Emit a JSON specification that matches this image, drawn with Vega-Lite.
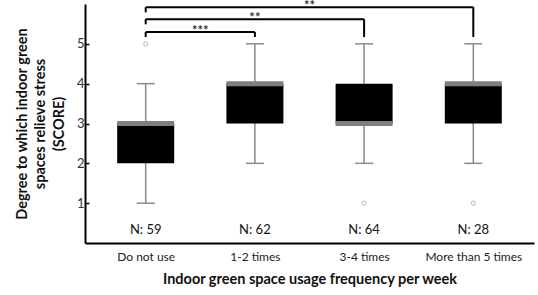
{
  "$schema": "https://vega.github.io/schema/vega-lite/v6.json",
  "autosize": {"type": "none"},
  "width": 449,
  "height": 239,
  "padding": {"left": 85, "top": 4, "right": 4, "bottom": 52},
  "background": "white",
  "config": {
    "view": {"stroke": null},
    "font": "Lato",
    "axis": {"grid": false, "domainColor": "black", "domainWidth": 2, "labelFont": "Lato", "titleFont": "Lato"}
  },
  "datasets": {
    "boxes": [
      {"pos": 1, "cat": "Do not use", "lo": 1, "q1": 2, "med": 3, "q3": 3, "hi": 4, "n": "N: 59"},
      {"pos": 2, "cat": "1-2 times", "lo": 2, "q1": 3, "med": 4, "q3": 4, "hi": 5, "n": "N: 62"},
      {"pos": 3, "cat": "3-4 times", "lo": 2, "q1": 3, "med": 3, "q3": 4, "hi": 5, "n": "N: 64"},
      {"pos": 4, "cat": "More than 5 times", "lo": 2, "q1": 3, "med": 4, "q3": 4, "hi": 5, "n": "N: 28"}
    ],
    "outliers": [
      {"pos": 1, "value": 5},
      {"pos": 3, "value": 1},
      {"pos": 4, "value": 1}
    ],
    "brackets": [
      {"from": 1, "to": 2, "mid": 1.5, "level": 5.3, "lb": 5.17, "rb": 5.17, "label": "***"},
      {"from": 1, "to": 3, "mid": 2, "level": 5.62, "lb": 5.49, "rb": 5.17, "label": "**"},
      {"from": 1, "to": 4, "mid": 2.5, "level": 5.92, "lb": 5.79, "rb": 5.17, "label": "**"}
    ]
  },
  "encoding": {
    "x": {
      "field": "pos", "type": "quantitative",
      "scale": {"domain": [0.49, 4.51], "nice": false, "zero": false},
      "axis": {
        "values": [1, 2, 3, 4], "ticks": false, "labelPadding": 8, "labelFontSize": 12, "labelColor": "#222",
        "labelExpr": "datum.value == 1 ? 'Do not use' : datum.value == 2 ? '1-2 times' : datum.value == 3 ? '3-4 times' : 'More than 5 times'",
        "title": "Indoor green space usage frequency per week", "titleFontSize": 14.5, "titleFontWeight": "bold", "titlePadding": 10, "titleColor": "#111"
      }
    }
  },
  "layer": [
    {
      "data": {"name": "boxes"},
      "mark": {"type": "rule", "color": "#8a8a8a", "strokeWidth": 1.5},
      "encoding": {
        "y": {"field": "lo", "type": "quantitative",
          "scale": {"domain": [0, 6], "nice": false},
          "axis": {"values": [1, 2, 3, 4, 5], "tickSize": -4, "tickColor": "black", "tickWidth": 1.5, "labelPadding": 5, "labelFontSize": 13, "labelColor": "#333",
            "title": ["Degree to which indoor green", "spaces relieve stress", "(SCORE)"], "titleFontSize": 14.5, "titleFontWeight": "bold", "titleLineHeight": 18.5, "titlePadding": 10, "titleColor": "#111"}},
        "y2": {"field": "hi"}
      }
    },
    {
      "data": {"name": "boxes"},
      "mark": {"type": "tick", "orient": "horizontal", "color": "#8a8a8a", "size": 18, "thickness": 1.5, "opacity": 1},
      "encoding": {"y": {"field": "lo", "type": "quantitative"}}
    },
    {
      "data": {"name": "boxes"},
      "mark": {"type": "tick", "orient": "horizontal", "color": "#8a8a8a", "size": 18, "thickness": 1.5, "opacity": 1},
      "encoding": {"y": {"field": "hi", "type": "quantitative"}}
    },
    {
      "data": {"name": "boxes"},
      "mark": {"type": "bar", "color": "black", "size": 57},
      "encoding": {"y": {"field": "q1", "type": "quantitative"}, "y2": {"field": "q3"}}
    },
    {
      "data": {"name": "boxes"},
      "mark": {"type": "tick", "orient": "horizontal", "color": "#7f7f7f", "size": 57, "thickness": 5, "opacity": 1},
      "encoding": {"y": {"field": "med", "type": "quantitative"}}
    },
    {
      "data": {"name": "boxes"},
      "mark": {"type": "text", "fontSize": 13, "color": "#111", "baseline": "middle"},
      "encoding": {"y": {"datum": 0.32, "type": "quantitative"}, "text": {"field": "n"}}
    },
    {
      "data": {"name": "outliers"},
      "mark": {"type": "point", "shape": "circle", "filled": false, "color": "#999999", "size": 18, "strokeWidth": 1},
      "encoding": {"y": {"field": "value", "type": "quantitative"}}
    },
    {
      "data": {"name": "brackets"},
      "mark": {"type": "rule", "color": "black", "strokeWidth": 2},
      "encoding": {"x": {"field": "from", "type": "quantitative"}, "x2": {"field": "to"}, "y": {"field": "level", "type": "quantitative"}}
    },
    {
      "data": {"name": "brackets"},
      "mark": {"type": "rule", "color": "black", "strokeWidth": 2},
      "encoding": {"x": {"field": "from", "type": "quantitative"}, "y": {"field": "level", "type": "quantitative"}, "y2": {"field": "lb"}}
    },
    {
      "data": {"name": "brackets"},
      "mark": {"type": "rule", "color": "black", "strokeWidth": 2},
      "encoding": {"x": {"field": "to", "type": "quantitative"}, "y": {"field": "level", "type": "quantitative"}, "y2": {"field": "rb"}}
    },
    {
      "data": {"name": "brackets"},
      "mark": {"type": "text", "fontSize": 13, "fontWeight": "bold", "color": "#333", "baseline": "alphabetic", "dy": 3},
      "encoding": {"x": {"field": "mid", "type": "quantitative"}, "y": {"field": "level", "type": "quantitative"}, "text": {"field": "label"}}
    }
  ]
}
